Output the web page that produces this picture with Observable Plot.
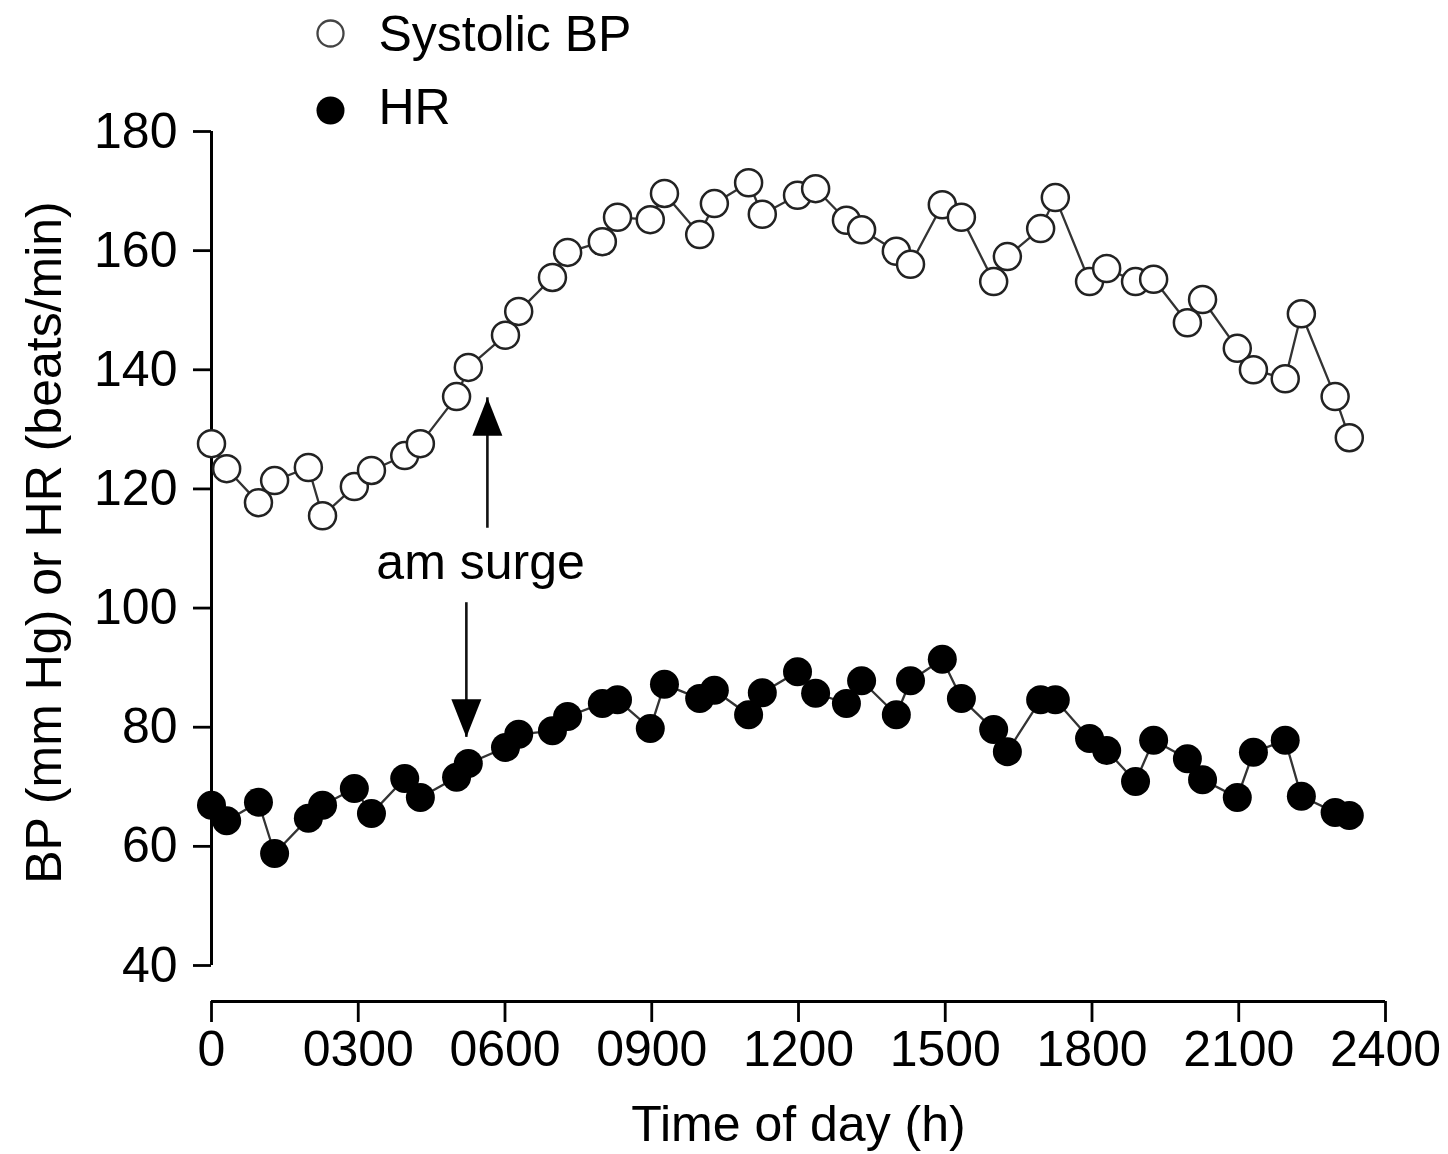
<!DOCTYPE html>
<html>
<head>
<meta charset="utf-8">
<script src="https://cdn.jsdelivr.net/npm/d3@7"></script>
<script src="https://cdn.jsdelivr.net/npm/@observablehq/plot@0.6"></script>
<style>
  html, body { margin: 0; padding: 0; background: #fff; }
  #chart svg { display: block; }
</style>
</head>
<body>
<div id="chart"></div>
<script>
// ---- data ----
const hours = [0.00, 0.31, 0.96, 1.29, 1.98, 2.27, 2.92, 3.27, 3.95, 4.27,
  5.01, 5.25, 6.01, 6.28, 6.97, 7.28, 7.99, 8.30, 8.97, 9.26,
  9.98, 10.28, 10.98, 11.26, 11.98, 12.35, 12.98, 13.29, 14.00, 14.29,
  14.94, 15.33, 15.99, 16.27, 16.95, 17.25, 17.95, 18.30, 18.89, 19.26,
  19.95, 20.26, 20.97, 21.30, 21.95, 22.28, 22.97, 23.26];
const systolicBP = [127.6, 123.4, 117.7, 121.4, 123.6, 115.5, 120.4, 123.1, 125.6, 127.6,
  135.5, 140.4, 145.8, 149.8, 155.5, 159.7, 161.5, 165.6, 165.2, 169.6,
  162.7, 167.9, 171.4, 166.1, 169.3, 170.4, 165.1, 163.5, 159.9, 157.7,
  167.7, 165.6, 154.8, 159.0, 163.7, 168.9, 154.8, 157.0, 154.8, 155.2,
  147.9, 151.8, 143.6, 140.0, 138.5, 149.4, 135.5, 128.6];
const heartRate = [66.9, 64.3, 67.4, 58.8, 64.7, 66.9, 69.7, 65.5, 71.4, 68.2,
  71.6, 73.9, 76.6, 78.8, 79.4, 81.8, 84.0, 84.6, 79.8, 87.2,
  84.8, 86.2, 82.1, 85.8, 89.3, 85.7, 84.0, 87.8, 82.1, 87.8,
  91.4, 84.8, 79.6, 75.9, 84.6, 84.6, 78.1, 76.1, 70.9, 77.8,
  74.7, 71.2, 68.2, 75.8, 77.8, 68.4, 65.7, 65.2];

const xTickValues = [0, 3, 6, 9, 12, 15, 18, 21, 24];
const xTickLabels = ["0", "0300", "0600", "0900", "1200", "1500", "1800", "2100", "2400"];
const yTickValues = [40, 60, 80, 100, 120, 140, 160, 180];
const seriesNames = ["Systolic BP", "HR"];
const xTitle = "Time of day (h)";
const yTitle = "BP (mm Hg) or HR (beats/min)";

// annotation: label and two arrows (hour, start value, tip value)
const annotationLabel = ["am surge"];
const annotationHour = [5.5];
const annotationValue = [107.6];
const arrowHours = [5.64, 5.21];
const arrowFrom = [113.4, 100.9];
const arrowTip = [135.3, 78.3];

// ---- tables built from the arrays ----
const bp = hours.map((h, i) => ({hour: h, value: systolicBP[i]}));
const hr = hours.map((h, i) => ({hour: h, value: heartRate[i]}));
const annotations = annotationLabel.map((t, i) => ({text: t, hour: annotationHour[i], value: annotationValue[i]}));
const arrows = arrowHours.map((h, i) => ({hour: h, from: arrowFrom[i], tip: arrowTip[i], dir: arrowTip[i] > arrowFrom[i] ? "up" : "down"}));

// filled arrowhead with its tip at the symbol origin, pointing up
const arrowHead = {
  draw(ctx) {
    ctx.moveTo(0, 0);
    ctx.lineTo(15, 38);
    ctx.lineTo(-15, 38);
    ctx.closePath();
  }
};

const chart = Plot.plot({
  width: 1448,
  height: 1154,
  marginLeft: 211,
  marginRight: 63,
  marginTop: 131,
  marginBottom: 153,
  style: {
    fontFamily: "'Liberation Sans', Arial, Helvetica, sans-serif",
    fontSize: "50px",
    color: "#000",
    background: "#fff",
    overflow: "visible"
  },
  x: {domain: [0, 24]},
  y: {domain: [40, 180], range: [965, 131]},
  marks: [
    // axis lines
    Plot.ruleX([0], {y1: 40, y2: 180, stroke: "#000", strokeWidth: 3}),
    Plot.ruleY([40], {x1: 0, x2: 24, dy: 36, stroke: "#000", strokeWidth: 3.2}),
    Plot.axisY(yTickValues, {tickSize: 18, tickPadding: 16, label: null, strokeWidth: 2.8}),
    Plot.axisX(xTickValues, {
      tickFormat: d => xTickLabels[xTickValues.indexOf(d)],
      tickSize: 21, tickPadding: 8, label: null, strokeWidth: 2.8
    }),
    Plot.text([xTitle], {frameAnchor: "bottom", text: d => d, dy: 123, textAnchor: "middle", lineAnchor: "middle"}),
    Plot.text([yTitle], {frameAnchor: "left", text: d => d, rotate: -90, dx: -167, dy: -24, textAnchor: "middle", lineAnchor: "middle"}),

    // heart rate
    Plot.line(hr, {x: "hour", y: "value", stroke: "#333", strokeWidth: 2.3}),
    Plot.dot(hr, {x: "hour", y: "value", r: 14.5, fill: "#000", stroke: "none"}),

    // systolic BP
    Plot.line(bp, {x: "hour", y: "value", stroke: "#333", strokeWidth: 2.3}),
    Plot.dot(bp, {x: "hour", y: "value", r: 13.5, fill: "#fff", stroke: "#222", strokeWidth: 2.5}),

    // annotation
    Plot.ruleX(arrows, {x: "hour", y1: "from", y2: "tip", stroke: "#111", strokeWidth: 2.6}),
    Plot.dot(arrows, {x: "hour", y: "tip", r: 1, symbol: arrowHead, fill: "#000", stroke: "none",
      rotate: d => d.dir === "up" ? 0 : 180}),
    Plot.text(annotations, {x: "hour", y: "value", text: "text", textAnchor: "middle", lineAnchor: "middle"}),

    // legend
    Plot.dot([seriesNames[0]], {frameAnchor: "top-left", dx: 119, dy: -98, r: 13, fill: "#fff", stroke: "#444", strokeWidth: 2.3}),
    Plot.text([seriesNames[0]], {frameAnchor: "top-left", dx: 167, dy: -97, text: d => d, textAnchor: "start", lineAnchor: "middle"}),
    Plot.dot([seriesNames[1]], {frameAnchor: "top-left", dx: 119, dy: -21, r: 14, fill: "#000", stroke: "none"}),
    Plot.text([seriesNames[1]], {frameAnchor: "top-left", dx: 167, dy: -24, text: d => d, textAnchor: "start", lineAnchor: "middle"})
  ]
});

document.getElementById("chart").appendChild(chart);
</script>
</body>
</html>
